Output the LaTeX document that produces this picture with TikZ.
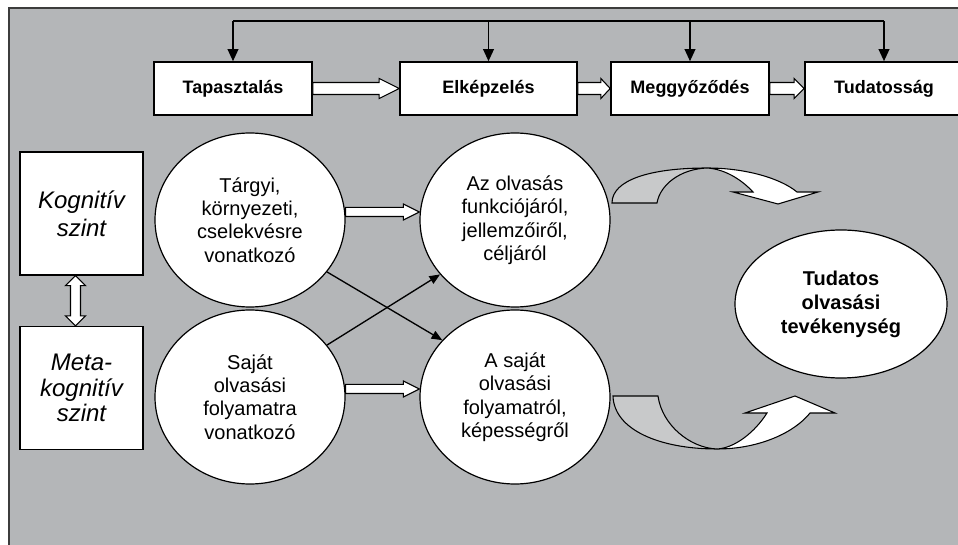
\documentclass[tikz,border=0pt]{standalone}
\usepackage{fontspec}
\setmainfont{Liberation Sans}
\usetikzlibrary{arrows.meta,calc,shapes.geometric}
\definecolor{bggray}{RGB}{180,182,184}
\definecolor{framegray}{RGB}{60,60,60}
\definecolor{bandgray}{RGB}{200,201,202}
\tikzset{
  stage/.style={draw,fill=white,line width=1.2pt,minimum width=118.5pt,minimum height=39.75pt,
    inner sep=0pt,font=\fontsize{13.5}{16}\selectfont\bfseries},
  level/.style={draw,fill=white,line width=1.2pt,minimum width=92.25pt,minimum height=92pt,
    inner sep=0pt,align=center,font=\fontsize{18}{21}\selectfont\itshape},
  bubble/.style={draw,fill=white,ellipse,line width=0.9pt,minimum width=142.5pt,minimum height=130.5pt,
    inner sep=0pt,align=center,font=\fontsize{15}{17.6}\selectfont},
  hollow/.style={draw,fill=white,line width=0.8pt},
  feed/.style={line width=1.2pt},
  cross/.style={line width=1pt,-{Triangle[length=8pt,width=6.5pt]}}
}
% horizontal block arrow: from, to, half shaft, half head, head length
\newcommand{\hollowarrow}[5]{%
  \path[hollow] let \p1=(#1), \p2=(#2) in
    (\x1,\y1+#3) -- (\x2-#5,\y1+#3) -- (\x2-#5,\y1+#4) -- (\x2,\y1)
    -- (\x2-#5,\y1-#4) -- (\x2-#5,\y1-#3) -- (\x1,\y1-#3) -- cycle;}
\begin{document}
\begin{tikzpicture}[x=0.75pt,y=-0.75pt]
  \useasboundingbox (0,0) rectangle (958,545);
  \clip (0,0) rectangle (958,545);
  \fill[white] (0,0) rectangle (958,545);
  %background frame
  \draw[line width=1.5pt,draw=framegray,fill=bggray] (9,8) rectangle (980,570);

  %top row
  \node[stage] (tap) at (233,88.5) {Tapasztalás};
  \node[stage,minimum width=132.75pt] (elk) at (488.5,88.5) {Elképzelés};
  \node[stage] (meg) at (690,88.5) {Meggyőződés};
  \node[stage] (tud) at (884,88.5) {Tudatosság};
  \coordinate (top) at (0,21);
  \draw[feed] (tap.north |- top) -- (tud.north |- top);
  \foreach \b in {tap,elk,meg,tud}
    \draw[feed,-{Triangle[length=9pt,width=8pt]}] (\b.north |- top) -- (\b.north);
  \hollowarrow{tap.east}{elk.west}{4.5pt}{7.5pt}{15pt}
  \hollowarrow{elk.east}{meg.west}{4.5pt}{7.5pt}{7pt}
  \hollowarrow{meg.east}{tud.west}{4.5pt}{7.5pt}{7.5pt}

  %levels
  \node[level] (kog) at (81.5,213.5) {Kognitív\\szint};
  \node[level] (meta) at (81.5,388) {Meta-\\[-2pt]kognitív\\[-2pt]szint};
  \path[hollow] let \p1=([xshift=-4.5pt]kog.south), \p2=([xshift=-4.5pt]meta.north) in
    (\x1,\y1) -- (\x1+7.5pt,\y1-7.5pt) -- (\x1+3.75pt,\y1-7.5pt) -- (\x1+3.75pt,\y2+7.5pt)
    -- (\x1+7.5pt,\y2+7.5pt) -- (\x1,\y2) -- (\x1-7.5pt,\y2+7.5pt) -- (\x1-3.75pt,\y2+7.5pt)
    -- (\x1-3.75pt,\y1-7.5pt) -- (\x1-7.5pt,\y1-7.5pt) -- cycle;

  %ellipses
  \node[bubble] (targy) at (250,220) {Tárgyi,\\környezeti,\\cselekvésre\\vonatkozó};
  \node[bubble] (sajat) at (250,397) {Saját\\olvasási\\folyamatra\\vonatkozó};
  \node[bubble] (funk) at (515,220) {Az olvasás\\funkciójáról,\\jellemzőiről,\\céljáról};
  \node[bubble] (kep) at (515,397) {A saját\\olvasási\\folyamatról,\\képességről};
  \node[bubble,minimum width=159pt,minimum height=111pt,font=\fontsize{15}{18}\selectfont\bfseries]
    (tev) at (841,304) {Tudatos\\olvasási\\tevékenység};

  \hollowarrow{[yshift=6pt]targy.east}{[yshift=6pt]funk.west}{3.4pt}{6pt}{12pt}
  \hollowarrow{[yshift=6pt]sajat.east}{[yshift=6pt]kep.west}{3.4pt}{6pt}{12pt}
  \draw[cross] (targy.-34) -- (kep.142);
  \draw[cross] (sajat.34) -- (funk.216);

  %curved arrows
  \filldraw[fill=bandgray,line width=0.8pt] (612,203) -- (657,203)
    .. controls (660,185) and (680,169) .. (707,168)
    .. controls (650,168) and (612,180) .. (612,203) -- cycle;
  \filldraw[fill=white,line width=0.8pt] (707,168) .. controls (745,168) and (780,178) .. (797,192)
    -- (818,192) -- (778,204) -- (733,192) -- (753,192)
    .. controls (742,180) and (725,169) .. (707,168) -- cycle;
  \filldraw[fill=bandgray,line width=0.8pt] (613,396) -- (658,396)
    .. controls (662,425) and (690,448) .. (717,449)
    .. controls (660,449) and (614,430) .. (613,396) -- cycle;
  \filldraw[fill=white,line width=0.8pt] (717,449) .. controls (760,449) and (795,432) .. (810,413)
    -- (835,413) -- (795,396) -- (745,413) -- (767,413)
    .. controls (755,432) and (735,448) .. (717,449) -- cycle;
\end{tikzpicture}
\end{document}
